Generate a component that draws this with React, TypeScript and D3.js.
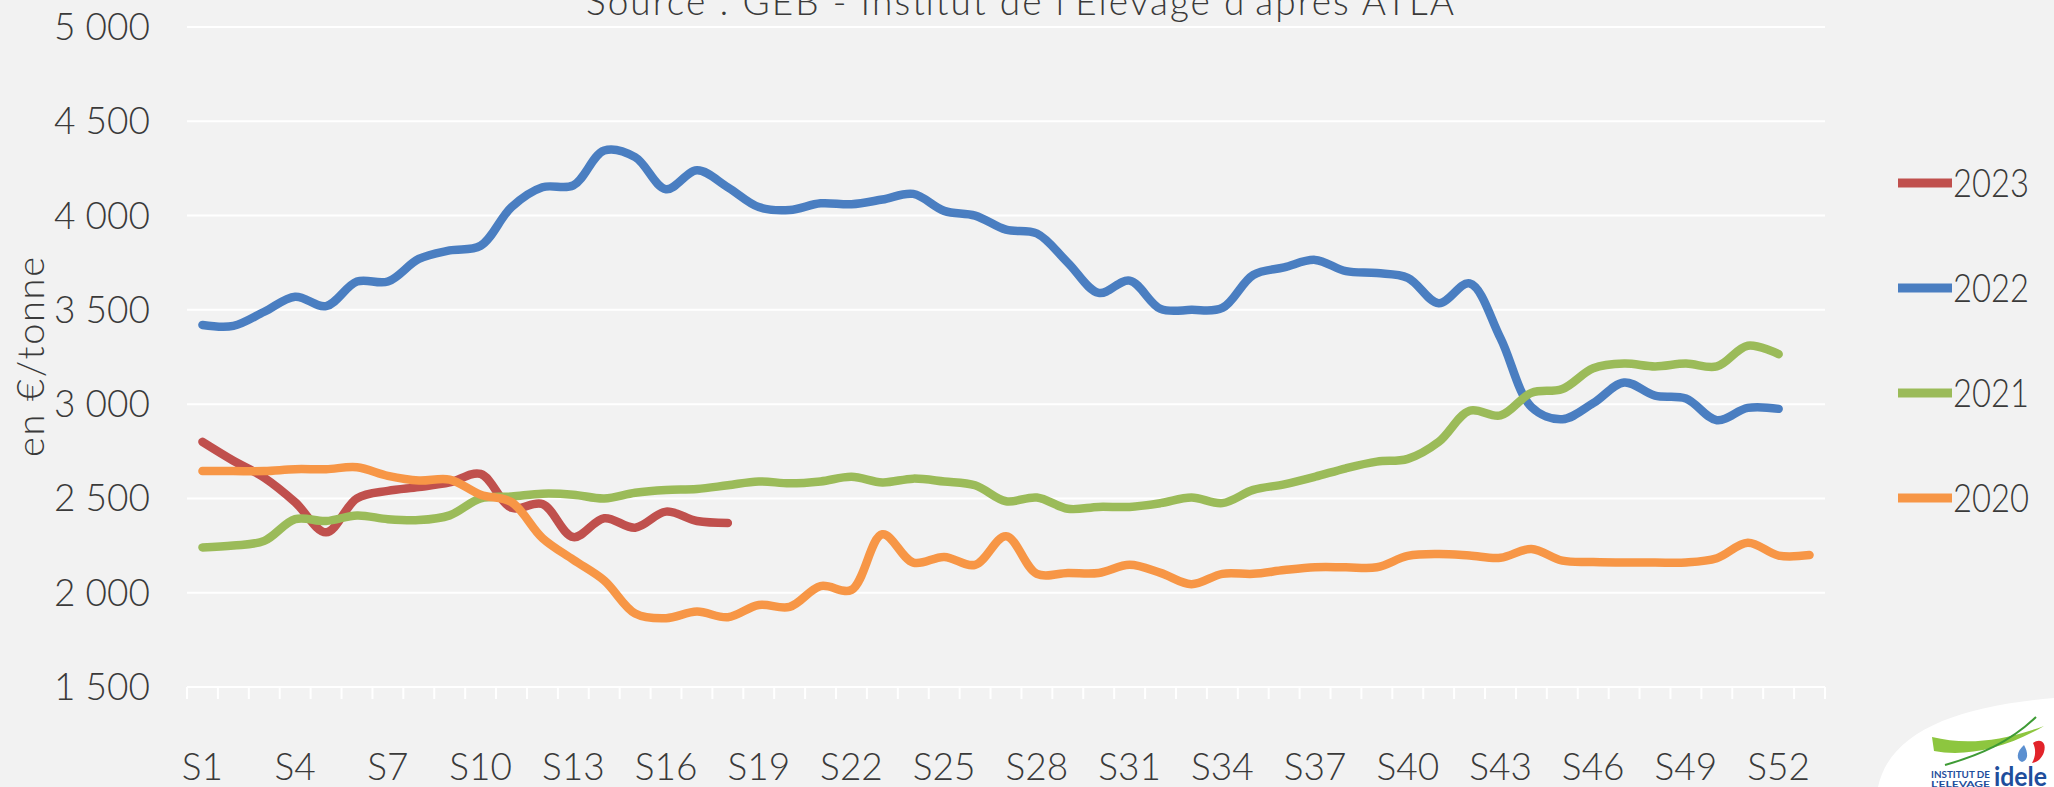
import React, { useEffect, useRef } from 'react'
import * as d3 from 'd3'

// semaines S1..S53
const weeks = d3.range(1, 54).map((w) => 'S' + w)
const tickWeeks = d3.range(1, 54, 3).map((w) => 'S' + w)
const yTicks = [1500, 2000, 2500, 3000, 3500, 4000, 4500, 5000]

const years = ['2023', '2022', '2021', '2020']
const colors = ['#C0504D', '#4A7EC1', '#9BBB59', '#F79646']

const values2023 = [2800, 2700, 2610, 2480, 2320, 2500, 2540, 2560, 2585, 2630, 2450, 2470, 2295, 2395, 2345, 2430, 2380, 2370]

const values2022 = [3420, 3415, 3490, 3570, 3520, 3650, 3650, 3770, 3815, 3840, 4045, 4150, 4160, 4345, 4310, 4140, 4240, 4150, 4045, 4030,
  4065, 4060, 4085, 4115, 4025, 4000, 3925, 3905, 3750, 3590, 3655, 3505, 3500, 3510, 3685, 3725, 3765, 3705, 3695, 3670,
  3535, 3640, 3350, 2985, 2920, 3005, 3115, 3045, 3030, 2915, 2980, 2975]

const values2021 = [2240, 2250, 2275, 2390, 2380, 2410, 2390, 2385, 2410, 2500, 2510, 2525, 2520, 2500, 2530, 2545, 2550, 2570, 2590, 2580,
  2590, 2615, 2585, 2605, 2590, 2570, 2485, 2505, 2445, 2455, 2455, 2475, 2505, 2475, 2545, 2575, 2615, 2660, 2695, 2710,
  2800, 2965, 2940, 3060, 3080, 3190, 3215, 3200, 3215, 3200, 3310, 3265]

const values2020 = [2645, 2645, 2645, 2655, 2655, 2665, 2620, 2595, 2600, 2520, 2480, 2290, 2175, 2065, 1890, 1865, 1900, 1870, 1935, 1925,
  2035, 2015, 2310, 2160, 2190, 2148, 2300, 2100, 2105, 2105, 2148, 2105, 2045, 2100, 2100, 2120, 2135, 2135, 2135, 2195,
  2205, 2197, 2185, 2232, 2170, 2163, 2160, 2160, 2160, 2183, 2265, 2197, 2200]

const seriesValues = [values2023, values2022, values2021, values2020]

export default function App() {
  const ref = useRef<SVGSVGElement>(null)

  useEffect(() => {
    const width = 2054
    const height = 787
    const left = 187, right = 1825, top = 27, bottom = 687
    const font = 'Lato, "Open Sans", sans-serif'
    const textColor = '#3a3a3a'

    const svg = d3.select(ref.current)
    svg.selectAll('*').remove()

    svg.append('rect').attr('width', width).attr('height', height).attr('fill', '#F2F2F2')

    // echelles
    const x = d3.scaleBand().domain(weeks).range([left, right]).paddingInner(0).paddingOuter(0)
    const y = d3.scaleLinear().domain([1500, 5000]).range([bottom, top])

    // grille
    svg.append('g').selectAll('line').data(yTicks).enter().append('line')
      .attr('x1', left).attr('x2', right)
      .attr('y1', (d) => y(d)).attr('y2', (d) => y(d))
      .attr('stroke', '#FFFFFF').attr('stroke-width', 2)

    // axe x (graduations entre les categories)
    const gx = svg.append('g').attr('transform', 'translate(0,' + bottom + ')')
    const bounds = d3.range(weeks.length + 1).map((i) => left + i * x.bandwidth())
    gx.selectAll('line.b').data(bounds).enter().append('line')
      .attr('x1', (d) => d).attr('x2', (d) => d).attr('y1', 0).attr('y2', 12)
      .attr('stroke', '#FFFFFF').attr('stroke-width', 2)
    gx.selectAll('text').data(tickWeeks).enter().append('text')
      .attr('x', (d) => x(d)! + x.bandwidth() / 2)
      .attr('y', 93)
      .attr('text-anchor', 'middle')
      .attr('font-family', font).attr('font-weight', 300).attr('font-size', 37).attr('fill', textColor)
      .text((d) => d)

    // axe y
    svg.append('g').selectAll('text').data(yTicks).enter().append('text')
      .attr('x', 150)
      .attr('y', (d) => y(d) + 13)
      .attr('text-anchor', 'end')
      .attr('font-family', font).attr('font-weight', 300).attr('font-size', 37).attr('fill', textColor)
      .text((d) => d3.format(',')(d).replace(',', ' '))

    svg.append('text')
      .attr('transform', 'translate(44,357) rotate(-90)')
      .attr('text-anchor', 'middle')
      .attr('font-family', font).attr('font-weight', 300).attr('font-size', 38).attr('fill', textColor)
      .attr('textLength', 200)
      .text('en €/tonne')

    // titre (coupe en haut)
    svg.append('text')
      .attr('x', 1020).attr('y', 15)
      .attr('text-anchor', 'middle')
      .attr('font-family', font).attr('font-weight', 300).attr('font-size', 37).attr('fill', textColor)
      .attr('textLength', 868)
      .text("Source : GEB - Institut de l'Elevage d'après ATLA")

    // courbes
    const line = d3.line<number>()
      .x((d, i) => x(weeks[i])! + x.bandwidth() / 2)
      .y((d) => y(d))
      .curve(d3.curveCatmullRom.alpha(0.5))

    seriesValues.forEach((vals, k) => {
      svg.append('path')
        .attr('d', line(vals))
        .attr('fill', 'none')
        .attr('stroke', colors[k])
        .attr('stroke-width', 8.5)
        .attr('stroke-linecap', 'round')
        .attr('stroke-linejoin', 'round')
    })

    // legende
    const legend = svg.append('g')
    years.forEach((yr, k) => {
      const ly = 183 + k * 105
      legend.append('line')
        .attr('x1', 1898).attr('x2', 1952).attr('y1', ly).attr('y2', ly)
        .attr('stroke', colors[k]).attr('stroke-width', 9)
      legend.append('text')
        .attr('x', 1953).attr('y', ly + 14)
        .attr('font-family', font).attr('font-weight', 300).attr('font-size', 39).attr('fill', textColor)
        .attr('textLength', 76).attr('lengthAdjust', 'spacingAndGlyphs')
        .text(yr)
    })

    // logo idele
    const logo = svg.append('g')
    logo.append('path')
      .attr('d', 'M1878,787 C1890,730 1960,706 2054,698 L2054,787 Z')
      .attr('fill', '#FFFFFF')
    logo.append('path')
      .attr('d', 'M1932,737 C1965,745 2000,742 2044,726 C2005,749 1965,757 1934,751 Z')
      .attr('fill', '#8DC63F')
    logo.append('path')
      .attr('d', 'M1945,765 C1980,755 2010,742 2036,717')
      .attr('fill', 'none').attr('stroke', '#3E9B35').attr('stroke-width', 2)
    logo.append('path')
      .attr('d', 'M2022,762 C2016,760 2016,752 2024,745 C2028,752 2029,760 2022,762 Z')
      .attr('fill', '#5B8FD0')
    logo.append('path')
      .attr('d', 'M2033,743 C2040,738 2047,742 2044,752 C2042,758 2038,762 2032,763 C2036,756 2036,749 2033,743 Z')
      .attr('fill', '#E2232A')
    logo.append('text')
      .attr('x', 1931).attr('y', 778)
      .attr('font-family', font).attr('font-weight', 'bold').attr('font-size', 9).attr('fill', '#1F4E9C')
      .attr('textLength', 59).attr('lengthAdjust', 'spacingAndGlyphs')
      .text('INSTITUT DE')
    logo.append('text')
      .attr('x', 1931).attr('y', 787)
      .attr('font-family', font).attr('font-weight', 'bold').attr('font-size', 8).attr('fill', '#1F4E9C')
      .attr('textLength', 59).attr('lengthAdjust', 'spacingAndGlyphs')
      .text("L'ELEVAGE")
    logo.append('text')
      .attr('x', 1994).attr('y', 786)
      .attr('font-family', font).attr('font-weight', 'bold').attr('font-size', 27).attr('fill', '#1F4E9C')
      .attr('textLength', 53).attr('lengthAdjust', 'spacingAndGlyphs')
      .text('idele')
  }, [])

  return (
    <svg ref={ref} width={2054} height={787} style={{ position: 'absolute', left: 0, top: 0, display: 'block' }} />
  )
}
